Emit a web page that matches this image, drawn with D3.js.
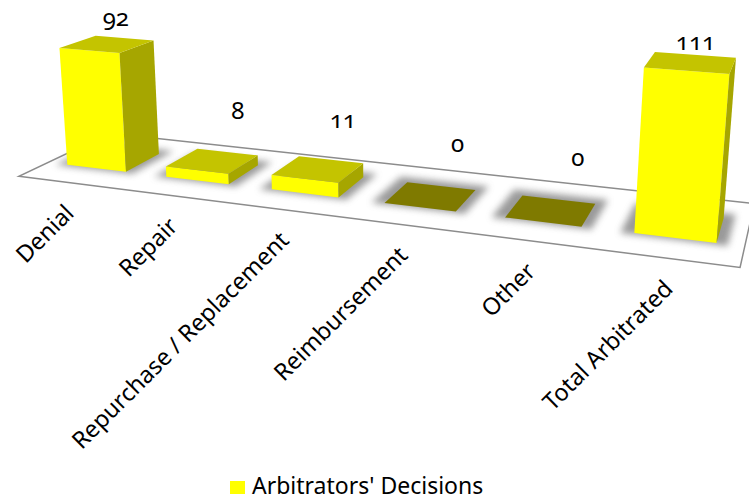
<!DOCTYPE html>
<html><head><meta charset="utf-8">
<script src="https://cdn.jsdelivr.net/npm/d3@7"></script>
<style>body{margin:0;background:#fff}svg{display:block}text{font-family:"Noto Sans",sans-serif;fill:#000}</style>
</head><body>
<svg id="c" width="749" height="500"></svg>
<script>
const categories = ["Denial","Repair","Repurchase / Replacement","Reimbursement","Other","Total Arbitrated"];
const values = [92,8,11,0,0,111];
const seriesName = "Arbitrators' Decisions";

// perspective view (camera) matrix: world (category units, value/100, depth) -> screen
const view = [
  [93.33121, -10.08563, 39.51423, 48.23869],
  [6.467829, -127.3262, -10.13740, 162.4095],
  [-0.03055538, -0.02685589, 0.04657414, 1]
];
function proj(X,Y,Z){
  const w=view[2][0]*X+view[2][1]*Y+view[2][2]*Z+view[2][3];
  return [(view[0][0]*X+view[0][1]*Y+view[0][2]*Z+view[0][3])/w,
          (view[1][0]*X+view[1][1]*Y+view[1][2]*Z+view[1][3])/w];
}
const x = d3.scaleBand().domain(categories).range([0,6]).paddingInner(0.4).paddingOuter(0.2);
const y = d3.scaleLinear().domain([0,100]).range([0,1]);
const depth = {floorFront:-0.76, floorBack:1.78, barFront:0, barBack:1};

const svg=d3.select("#c");
const line=d3.line();
const defs=svg.append("defs");
defs.append("filter").attr("id","blur").attr("x","-50%").attr("y","-50%").attr("width","200%").attr("height","200%")
  .append("feGaussianBlur").attr("stdDeviation",3.5);

// floor
svg.append("path")
  .attr("d",line([proj(0,0,depth.floorFront),proj(6,0,depth.floorFront),proj(6,0,depth.floorBack),proj(0,0,depth.floorBack)])+"Z")
  .attr("fill","#fff").attr("stroke","#8c8c8c").attr("stroke-width",1.5);

// soft shadows under the bars
categories.forEach((c,i)=>{
  const x0=x(c)-0.1,x1=x(c)+x.bandwidth()+0.08;
  svg.append("path").attr("d",line([proj(x0,0,-0.06),proj(x1,0,-0.06),proj(x1,0,1.22),proj(x0,0,1.22)])+"Z")
    .attr("fill","#6e6e6e").attr("opacity",0.7).attr("filter","url(#blur)");
});

// bars (visible faces only)
categories.forEach((c,i)=>{
  const x0=x(c),x1=x0+x.bandwidth(),h=y(values[i]),z0=depth.barFront,z1=depth.barBack;
  const faces=[
    {pts:[[x0,0,z0],[x1,0,z0],[x1,h,z0],[x0,h,z0]],col:"#FFFF00"},
    {pts:[[x1,0,z0],[x1,0,z1],[x1,h,z1],[x1,h,z0]],col:"#A6A600"},
    {pts:[[x0,0,z1],[x0,0,z0],[x0,h,z0],[x0,h,z1]],col:"#A6A600"},
    {pts:[[x0,h,z0],[x1,h,z0],[x1,h,z1],[x0,h,z1]],col:values[i]===0?"#7F7A00":"#C4C400"}];
  faces.forEach(f=>{
    const s=f.pts.map(q=>proj(...q));let a=0;
    for(let k=0;k<4;k++){const m=s[k],n=s[(k+1)%4];a+=m[0]*n[1]-n[0]*m[1];}
    if(a<-0.5)svg.append("path").attr("d",line(s)+"Z").attr("fill",f.col);
  });
});

// value labels (placed above the projected top face)
categories.forEach((c,i)=>{
  const v=values[i];
  const p=proj(x(c)+x.bandwidth()/2,y(v),0.5);
  svg.append("text").attr("x",p[0]+27-0.2*v).attr("y",p[1]-44+0.28*v).attr("text-anchor","middle")
    .attr("font-size",24).style("font-variant-numeric","oldstyle-nums").text(v);
});

// category labels
categories.forEach((c,i)=>{
  const p=proj(x(c)+x.bandwidth()/2,0,depth.floorFront);
  const ax=p[0]+7, ay=p[1]+32;
  svg.append("text").attr("transform",`translate(${ax},${ay}) rotate(-45)`).attr("text-anchor","end")
    .attr("font-size",23.5).text(c);
});

// legend
const lg=svg.append("g").attr("transform","translate(230,481)");
lg.append("rect").attr("width",15).attr("height",13).attr("fill","#FFFF00");
lg.append("text").attr("x",22).attr("y",13).attr("font-size",23).text(seriesName);
</script>
</body></html>
